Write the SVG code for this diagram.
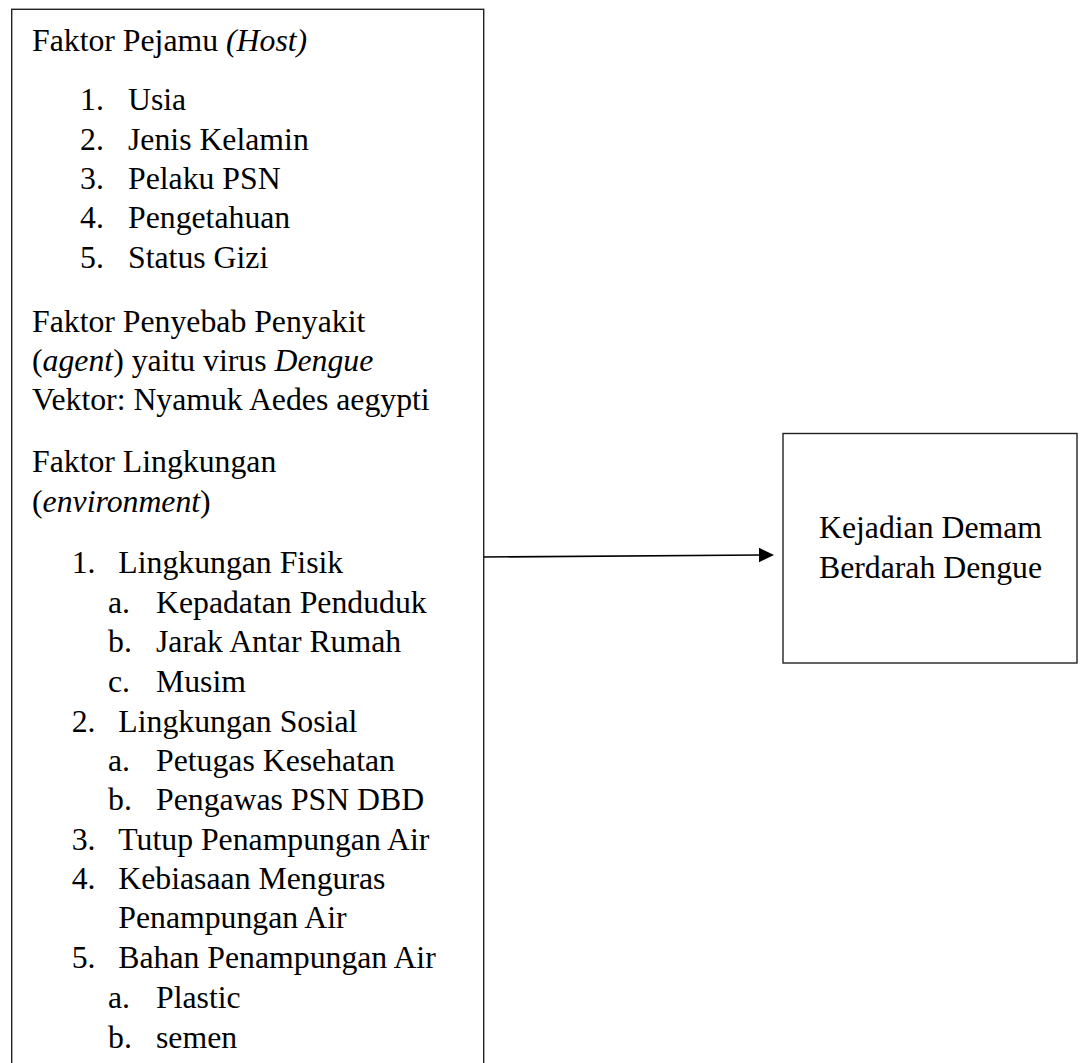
<svg xmlns="http://www.w3.org/2000/svg" width="1081" height="1063" viewBox="0 0 1081 1063">
<style>
.t{font-family:"Liberation Serif","Times New Roman",serif;font-size:31.75px;fill:#000}
.i{font-style:italic}
.box{fill:#fff;stroke:#222;stroke-width:1.4}
.c{text-anchor:middle}
</style>
<rect width="1081" height="1063" fill="#fff"/>
<g id="node-factors">
<rect class="box" x="11.7" y="9.3" width="472" height="1070"/>
<text class="t" x="32" y="51">Faktor Pejamu <tspan class="i">(Host)</tspan></text>
<text class="t" x="80" y="110">1.</text><text class="t" x="128" y="110">Usia</text>
<text class="t" x="80" y="150">2.</text><text class="t" x="128" y="150">Jenis Kelamin</text>
<text class="t" x="80" y="189">3.</text><text class="t" x="128" y="189">Pelaku PSN</text>
<text class="t" x="80" y="228">4.</text><text class="t" x="128" y="228">Pengetahuan</text>
<text class="t" x="80" y="268">5.</text><text class="t" x="128" y="268">Status Gizi</text>
<text class="t" x="32" y="331.7">Faktor Penyebab Penyakit</text>
<text class="t" x="32" y="370.7">(<tspan class="i">agent</tspan>) yaitu virus <tspan class="i">Dengue</tspan></text>
<text class="t" x="32" y="410">Vektor: Nyamuk Aedes aegypti</text>
<text class="t" x="32" y="472.3">Faktor Lingkungan</text>
<text class="t" x="32" y="511.7">(<tspan class="i">environment</tspan>)</text>
<text class="t" x="71.7" y="572.7">1.</text><text class="t" x="118.3" y="572.7">Lingkungan Fisik</text>
<text class="t" x="108" y="612.7">a.</text><text class="t" x="156" y="612.7">Kepadatan Penduduk</text>
<text class="t" x="108" y="651.5">b.</text><text class="t" x="156" y="651.5">Jarak Antar Rumah</text>
<text class="t" x="108" y="691.7">c.</text><text class="t" x="156" y="691.7">Musim</text>
<text class="t" x="71.7" y="731.7">2.</text><text class="t" x="118.3" y="731.7">Lingkungan Sosial</text>
<text class="t" x="108" y="770.7">a.</text><text class="t" x="156" y="770.7">Petugas Kesehatan</text>
<text class="t" x="108" y="810">b.</text><text class="t" x="156" y="810">Pengawas PSN DBD</text>
<text class="t" x="71.7" y="850">3.</text><text class="t" x="118.3" y="850">Tutup Penampungan Air</text>
<text class="t" x="71.7" y="889.3">4.</text><text class="t" x="118.3" y="889.3">Kebiasaan Menguras</text>
<text class="t" x="118.3" y="928.3">Penampungan Air</text>
<text class="t" x="71.7" y="968.3">5.</text><text class="t" x="118.3" y="968.3">Bahan Penampungan Air</text>
<text class="t" x="108" y="1008.3">a.</text><text class="t" x="156" y="1008.3">Plastic</text>
<text class="t" x="108" y="1048.3">b.</text><text class="t" x="156" y="1048.3">semen</text>
</g>
<g id="node-outcome">
<rect class="box" x="783" y="433.5" width="294" height="229.5"/>
<text class="t c" x="930.5" y="538">Kejadian Demam</text>
<text class="t c" x="930.5" y="578">Berdarah Dengue</text>
</g>
<g id="connectors">
<line x1="484" y1="557" x2="761" y2="555" stroke="#000" stroke-width="1.6"/>
<polygon points="759,547.7 774,555 759,562.3" fill="#000"/>
</g>
</svg>
